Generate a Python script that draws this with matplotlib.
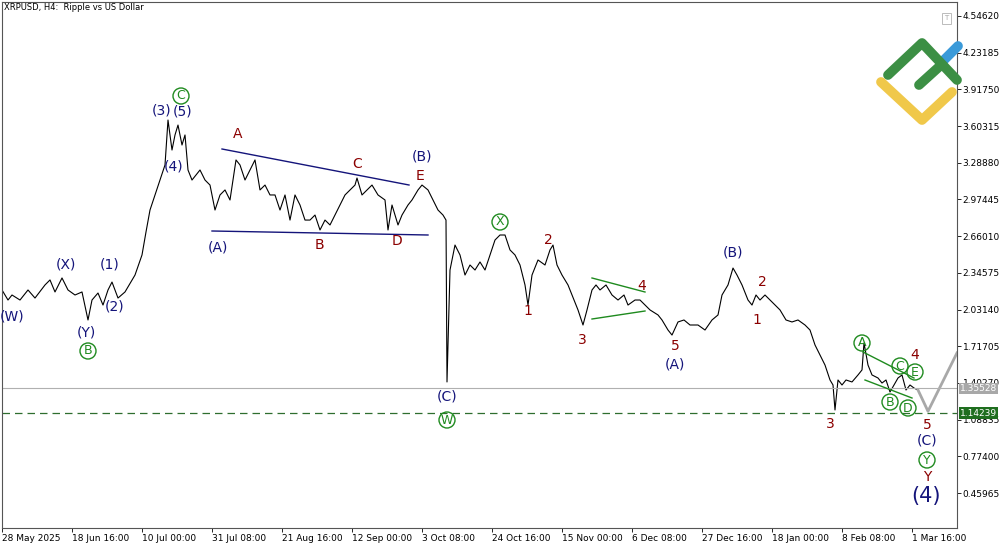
import matplotlib
matplotlib.use("Agg")
import matplotlib.pyplot as plt
from matplotlib.lines import Line2D

# ---- data ----
bar_x = [2,8,12,20,28,35,45,50,55,62,68,75,82,88,92,98,103,108,112,118,125,135,142,146,150,155,160,165,168,172,175,178,182,185,188,192,196,200,205,210,215,220,225,230,236,240,245,250,255,260,265,270,275,280,285,290,295,300,305,310,315,320,325,330,335,340,345,350,355,357,362,367,372,378,385,388,392,398,402,408,412,418,422,428,433,438,443,446,447,450,455,460,465,470,475,480,485,490,495,500,505,510,515,520,525,528,532,538,545,550,553,557,562,568,574,578,583,587,592,596,600,606,612,618,624,628,635,640,645,650,658,662,668,672,678,684,690,698,705,712,718,722,728,733,737,742,748,752,756,760,765,770,775,780,786,792,798,805,810,815,820,825,830,833,835,838,842,846,852,858,862,864,868,872,878,882,886,890,894,898,902,906,910,914,918]
price = [2.199,2.113,2.156,2.113,2.199,2.130,2.242,2.285,2.182,2.302,2.199,2.156,2.182,1.942,2.113,2.173,2.070,2.199,2.267,2.130,2.182,2.327,2.499,2.696,2.884,3.013,3.141,3.270,3.655,3.398,3.527,3.612,3.441,3.527,3.227,3.141,3.184,3.227,3.141,3.098,2.884,3.013,3.056,2.970,3.313,3.270,3.141,3.227,3.313,3.056,3.098,3.013,3.013,2.884,3.013,2.798,3.013,2.927,2.798,2.798,2.841,2.713,2.798,2.756,2.841,2.927,3.013,3.056,3.098,3.158,3.013,3.056,3.098,3.013,2.970,2.713,2.927,2.756,2.841,2.927,2.970,3.056,3.098,3.056,2.970,2.884,2.841,2.798,1.411,2.370,2.584,2.499,2.327,2.413,2.370,2.439,2.370,2.499,2.627,2.670,2.670,2.542,2.499,2.413,2.242,2.070,2.327,2.456,2.413,2.542,2.584,2.413,2.327,2.242,2.113,2.028,1.899,2.028,2.199,2.242,2.199,2.242,2.156,2.113,2.156,2.070,2.113,2.113,2.070,2.028,1.985,1.942,1.856,1.813,1.925,1.942,1.899,1.899,1.856,1.942,1.985,2.156,2.242,2.387,2.327,2.242,2.113,2.070,2.156,2.113,2.156,2.113,2.070,2.028,1.942,1.925,1.942,1.899,1.856,1.728,1.642,1.556,1.428,1.385,1.171,1.428,1.385,1.428,1.411,1.471,1.514,1.745,1.556,1.471,1.445,1.402,1.428,1.325,1.385,1.445,1.471,1.342,1.385,1.359,1.342]
forecast_x = [918, 928, 957]
forecast_p = [1.342, 1.16, 1.66]
current_price = 1.35528
target_price = 1.14239
ytick_vals = [4.54620,4.23185,3.91750,3.60315,3.28880,2.97445,2.66010,2.34575,2.03140,1.71705,1.40270,1.08835,0.77400,0.45965]
xtick_labels = ["28 May 2025","18 Jun 16:00","10 Jul 00:00","31 Jul 08:00","21 Aug 16:00","12 Sep 00:00","3 Oct 08:00","24 Oct 16:00","15 Nov 00:00","6 Dec 08:00","27 Dec 16:00","18 Jan 00:00","8 Feb 08:00","1 Mar 16:00"]

NAVY = "#14147a"; RED = "#8b0000"; GRN = "#1e8a1e"

def py(y):  # pixel row -> price (for annotation placement)
    return 4.5462 - 0.008567 * (y - 16)

fig = plt.figure(figsize=(10, 5.45), dpi=100)
ax = fig.add_axes([0.002, 17/545, 0.955, 526/545])
ax.set_xlim(2, 957)
ax.set_ylim(py(528), py(2))

ax.plot(bar_x, price, color="black", lw=0.8)
ax.plot(forecast_x, forecast_p, color="#a8a8a8", lw=2)
ax.axhline(current_price, color="#b0b0b0", lw=0.8)
ax.axhline(target_price, color="#2e6e2e", lw=0.9, ls=(0, (6, 4)))

# trend lines
for (x1, y1, x2, y2, c) in [(222,149,409,185,NAVY),(212,231,428,235,NAVY),
                            (592,278,645,292,GRN),(592,319,645,311,GRN),
                            (863,352,914,378,GRN),(865,380,912,398,GRN)]:
    ax.plot([x1, x2], [py(y1), py(y2)], color=c, lw=1)

labels = [("(W)",12,316,NAVY,"p"),("(X)",66,265,NAVY,"p"),("(Y)",86,332,NAVY,"p"),("B",88,351,GRN,"c"),
          ("(1)",110,265,NAVY,"p"),("(2)",115,306,NAVY,"p"),("(3)",162,111,NAVY,"p"),("(5)",183,112,NAVY,"p"),
          ("C",181,96,GRN,"c"),("(4)",174,167,NAVY,"p"),("(A)",218,248,NAVY,"p"),("A",238,134,RED,"p"),
          ("B",319,245,RED,"p"),("C",357,164,RED,"p"),("D",397,241,RED,"p"),("E",420,176,RED,"p"),
          ("(B)",422,157,NAVY,"p"),("(C)",447,397,NAVY,"p"),("W",447,420,GRN,"c"),("X",500,222,GRN,"c"),
          ("2",548,240,RED,"p"),("1",528,311,RED,"p"),("3",582,340,RED,"p"),("4",642,286,RED,"p"),
          ("5",675,346,RED,"p"),("(A)",675,364,NAVY,"p"),("(B)",733,252,NAVY,"p"),("2",762,282,RED,"p"),
          ("1",757,320,RED,"p"),("3",830,424,RED,"p"),("A",862,343,GRN,"c"),("B",890,402,GRN,"c"),
          ("C",900,366,GRN,"c"),("D",908,408,GRN,"c"),("E",915,372,GRN,"c"),("4",915,355,RED,"p"),
          ("5",927,425,RED,"p"),("(C)",927,441,NAVY,"p"),("Y",927,460,GRN,"c"),("Y",927,477,RED,"p")]
for t, x, y, c, s in labels:
    if s == "c":
        ax.text(x, py(y), t, color=c, fontsize=9, ha="center", va="center",
                bbox=dict(boxstyle="circle,pad=0.12", fc="none", ec=c, lw=1))
    else:
        ax.text(x, py(y), t, color=c, fontsize=10, ha="center", va="center")
ax.text(926, py(496), "(4)", color=NAVY, fontsize=15, ha="center", va="center")

ax.text(4, py(8), "XRPUSD, H4:  Ripple vs US Dollar", fontsize=6, va="center", ha="left")

# axes styling
for s in ax.spines.values():
    s.set_color("#555555"); s.set_linewidth(0.8)
ax.yaxis.tick_right()
ax.set_yticks(ytick_vals)
ax.set_yticklabels([f"{v:.5f}" for v in ytick_vals], fontsize=6.5)
ax.set_xticks([2 + 70*i for i in range(len(xtick_labels))])
ax.set_xticklabels(xtick_labels, fontsize=6.5, ha="left")
ax.tick_params(length=3, width=0.6, pad=1)

for val, fc, tc in [(current_price, "#a8a8a8", "white"), (target_price, "#1f6e1f", "white")]:
    ax.text(1.003, val, f"{val:.5f}", transform=ax.get_yaxis_transform(), fontsize=6.5,
            color=tc, va="center", ha="left", zorder=10, clip_on=False,
            bbox=dict(boxstyle="square,pad=0.15", fc=fc, ec="none"))

# logo overlay in pixel coords
lo = fig.add_axes([0, 0, 1, 1]); lo.set_xlim(0, 1000); lo.set_ylim(545, 0); lo.axis("off")
lo.patch.set_alpha(0)
lw = 7
lo.add_line(Line2D([940, 958], [64, 46], color="#3a9ad9", lw=lw, solid_capstyle="round"))
lo.add_line(Line2D([888, 922, 957], [75, 43, 80], color="#3c8f44", lw=lw, solid_capstyle="round", solid_joinstyle="round"))
lo.add_line(Line2D([919, 940], [85, 66], color="#3c8f44", lw=lw, solid_capstyle="round"))
lo.add_line(Line2D([881, 922, 952], [82, 120, 92], color="#f0c84a", lw=lw, solid_capstyle="round", solid_joinstyle="round"))
lo.add_patch(plt.Rectangle((942, 13), 9, 11, fill=False, ec="#bbbbbb", lw=0.7))
lo.text(946.5, 18.5, "T", fontsize=5, color="#aaaaaa", ha="center", va="center")

fig.savefig("out.png", dpi=100)
